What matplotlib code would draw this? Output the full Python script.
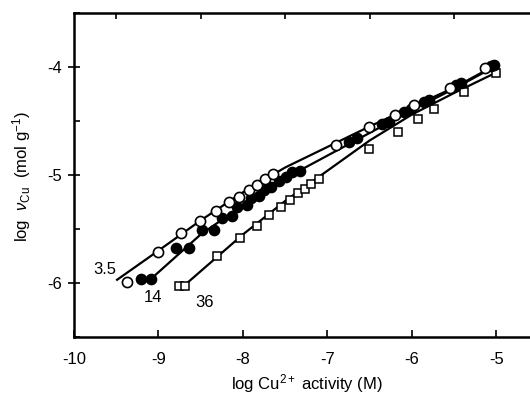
import matplotlib
matplotlib.use("Agg")
import matplotlib.pyplot as plt
from matplotlib.ticker import MultipleLocator

plt.rcParams['font.family'] = ['Liberation Sans', 'DejaVu Sans']
plt.rcParams['mathtext.fontset'] = 'custom'
plt.rcParams['mathtext.rm'] = 'Liberation Sans'
plt.rcParams['mathtext.it'] = 'Liberation Sans:italic'

# Data: log Cu2+ activity (x) vs log nu_Cu (y)
open_x = [-9.37, -9.0, -8.73, -8.51, -8.32, -8.17, -8.05, -7.93, -7.83, -7.74, -7.64,
          -6.90, -6.51, -6.20, -5.98, -5.55, -5.13]
open_y = [-5.99, -5.71, -5.54, -5.43, -5.33, -5.25, -5.20, -5.14, -5.09, -5.04, -4.99,
          -4.72, -4.56, -4.44, -4.35, -4.19, -4.01]

filled_x = [-9.21, -9.09, -8.79, -8.64, -8.49, -8.34, -8.25, -8.13, -8.07, -7.95, -7.91,
            -7.81, -7.75, -7.67, -7.57, -7.49, -7.42, -7.32, -6.74, -6.65, -6.35, -6.27,
            -6.09, -6.01, -5.86, -5.80, -5.48, -5.42, -5.07, -5.03]
filled_y = [-5.96, -5.96, -5.68, -5.68, -5.51, -5.51, -5.40, -5.38, -5.30, -5.28, -5.21,
            -5.19, -5.14, -5.11, -5.06, -5.02, -4.97, -4.96, -4.69, -4.66, -4.53, -4.51,
            -4.42, -4.39, -4.32, -4.31, -4.17, -4.15, -3.99, -3.98]

square_x = [-8.76, -8.69, -8.31, -8.04, -7.84, -7.69, -7.55, -7.44, -7.35, -7.27, -7.19,
            -7.10, -6.51, -6.17, -5.93, -5.74, -5.38, -5.01]
square_y = [-6.03, -6.03, -5.75, -5.58, -5.47, -5.37, -5.30, -5.23, -5.17, -5.13, -5.08,
            -5.04, -4.76, -4.60, -4.48, -4.39, -4.23, -4.06]

# Fitted curves
fit35_x = [-9.49, -9.0, -8.5, -8.0, -7.5, -7.0, -6.5, -6.0, -5.5, -5.1]
fit35_y = [-5.97, -5.70, -5.42, -5.16, -4.93, -4.74, -4.55, -4.37, -4.19, -4.02]
fit14_x = [-9.1, -8.5, -8.0, -7.5, -7.0, -6.5, -6.0, -5.5, -5.03]
fit14_y = [-5.97, -5.55, -5.28, -5.03, -4.82, -4.61, -4.40, -4.20, -4.00]
fit36_x = [-8.72, -8.0, -7.5, -7.0, -6.5, -6.0, -5.5, -5.0]
fit36_y = [-6.04, -5.55, -5.24, -4.96, -4.68, -4.44, -4.24, -4.05]

curve_labels = ['3.5', '14', '36']
label_x = [-9.63, -9.065, -8.456]
label_y = [-5.873, -6.137, -6.183]

xticks = [-10, -9, -8, -7, -6, -5]
yticks = [-6, -5, -4]

fig = plt.figure(figsize=(5.30, 4.01), dpi=100)
ax = fig.add_axes([74/530, 64/401, (540-74)/530, (337-13)/401])

lw = 1.6
ax.plot(fit35_x, fit35_y, color='black', lw=lw, zorder=2)
ax.plot(fit14_x, fit14_y, color='black', lw=lw, zorder=2)
ax.plot(fit36_x, fit36_y, color='black', lw=lw, zorder=2)

ax.plot(square_x, square_y, ls='none', marker='s', ms=6.3, mfc='white', mec='black', mew=1.1, zorder=3)
ax.plot(filled_x, filled_y, ls='none', marker='o', ms=7.3, mfc='black', mec='black', mew=1.1, zorder=4)
ax.plot(open_x, open_y, ls='none', marker='o', ms=7.3, mfc='white', mec='black', mew=1.2, zorder=5)

for t, lx, ly in zip(curve_labels, label_x, label_y):
    ax.text(lx, ly, t, ha='center', va='center', fontsize=12)

ax.set_xlim(-10, -4.485)
ax.set_ylim(-6.5, -3.5)
ax.set_xticks(xticks)
ax.set_yticks(yticks)
ax.set_xticklabels([str(v) for v in xticks])
ax.set_yticklabels([str(v) for v in yticks])
ax.xaxis.set_minor_locator(MultipleLocator(0.5))
ax.yaxis.set_minor_locator(MultipleLocator(0.5))

ax.tick_params(axis='x', which='major', direction='in', bottom=True, top=False, length=5, width=1.2,
               labelsize=12, pad=11)
ax.tick_params(axis='x', which='minor', direction='in', bottom=False, top=True, length=4, width=1.2)
ax.tick_params(axis='y', which='major', direction='inout', left=True, right=False, length=8, width=1.2,
               labelsize=12, pad=5)
ax.tick_params(axis='y', which='minor', direction='in', left=True, right=False, length=4, width=1.2)

for s in ['left', 'bottom', 'top']:
    ax.spines[s].set_linewidth(1.8)
ax.spines['right'].set_visible(False)

fig.text(307/530, 1 - 384/401, r'log Cu$^{2+}$ activity (M)', ha='center', va='center', fontsize=12)
fig.text(22/530, 1 - 177/401, r'log  $\nu_{\mathrm{Cu}}$  (mol g$^{-1}$)', ha='center', va='center',
         rotation=90, fontsize=12)

fig.savefig('out.png', dpi=100)
